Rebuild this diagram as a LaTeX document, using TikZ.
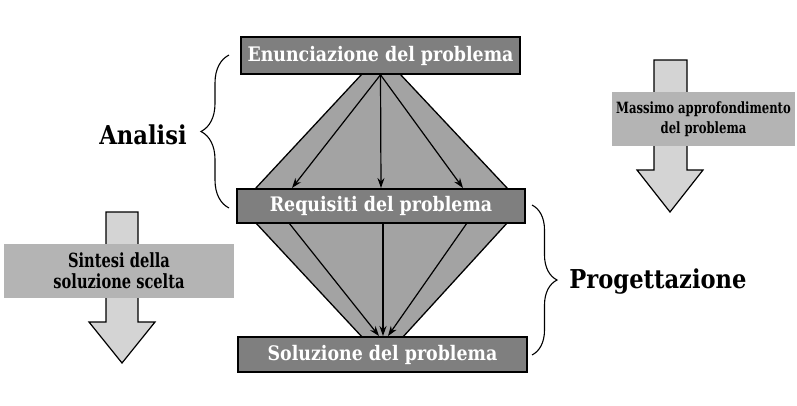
\documentclass[tikz,border=0pt]{standalone}
\usepackage{fontspec}
\setmainfont{DejaVu Serif}[FakeStretch=0.87]
\newfontfamily\narrowserif{DejaVu Serif}[FakeStretch=0.75]
\usepackage{xcolor}
\usetikzlibrary{arrows.meta,decorations.pathreplacing}

\definecolor{boxgray}{HTML}{7F7F7F}
\definecolor{diagray}{HTML}{A3A3A3}
\definecolor{labelgray}{HTML}{B4B4B4}
\definecolor{arrowgray}{HTML}{D4D4D4}

\begin{document}
\begin{tikzpicture}[x=1pt,y=-1pt,
	box/.style={draw=black,line width=1.6pt,fill=boxgray,text=white,inner sep=0pt,
		font=\fontsize{20}{22}\selectfont\bfseries},
	band/.style={draw=black,line width=1.3pt,fill=diagray,line join=miter},
	arr/.style={line width=1.2pt,-{Stealth[length=10pt,width=7pt]}},
	sidearrow/.style={draw=black,line width=1.2pt,fill=arrowgray},
	sidelabel/.style={fill=labelgray,inner sep=0pt,align=center},
	phase/.style={font=\fontsize{26}{28}\selectfont\bfseries},
	curly/.style={line width=1.1pt,decorate}]
	\useasboundingbox (0,0) rectangle (797,405);
	
	% the two bands of the diamond
	\draw[band] (362,74)--(400,74)--(508,189)--(255,189)--cycle;
	\draw[band] (255,222)--(508,222)--(402,338)--(363,338)--cycle;
	
	% boxes
	\node[box,minimum width=279pt,minimum height=37pt] (enun) at (380.5,55.5) {Enunciazione del problema};
	\node[box,minimum width=288pt,minimum height=34pt] (req) at (381,206) {Requisiti del problema};
	\node[box,minimum width=289pt,minimum height=35pt] (sol) at (382.5,354.5) {Soluzione del problema};
	
	% arrows inside the bands
	\foreach \n/\x in {a/292,b/381,c/463}
		\coordinate (up\n) at (\x,188);
	\foreach \n/\x in {a/289,b/383,c/467}
		\coordinate (lo\n) at (\x,223);
	\foreach \n/\x in {a/379,b/383,c/388}
		\coordinate (end\n) at (\x,336);
	\foreach \n in {a,b,c}
		\draw[arr] (enun.south) -- (up\n);
	\foreach \n in {a,b,c}
		\draw[arr] (lo\n) -- (end\n);
	
	% side arrows
	\draw[sidearrow] (654,60)--(687,60)--(687,170)--(703,170)--(670,212)--(637,170)--(654,170)--cycle;
	\node[sidelabel,minimum width=183pt,minimum height=54pt,
		font=\narrowserif\fontsize{15.5}{20}\selectfont\bfseries] (appr) at (703.5,119) {Massimo approfondimento\\del problema};
	\draw[sidearrow] (106,212)--(138,212)--(138,322)--(155,322)--(122,363)--(89,322)--(106,322)--cycle;
	\node[sidelabel,minimum width=230pt,minimum height=54pt,
		font=\narrowserif\fontsize{19.5}{21}\selectfont\bfseries] (sint) at (119,271) {Sintesi della\\soluzione scelta};
	
	% braces
	\coordinate (ana1) at (229,208);
	\coordinate (ana2) at (229,55);
	\draw[curly,decoration={brace,amplitude=28pt}] (ana1) -- (ana2);
	\node[phase] (ana) at (143,135) {Analisi};
	\coordinate (prog1) at (532,205);
	\coordinate (prog2) at (532,355);
	\draw[curly,decoration={brace,amplitude=25pt}] (prog1) -- (prog2);
	\node[phase] (prog) at (658,282) {Progettazione};
\end{tikzpicture}
\end{document}
